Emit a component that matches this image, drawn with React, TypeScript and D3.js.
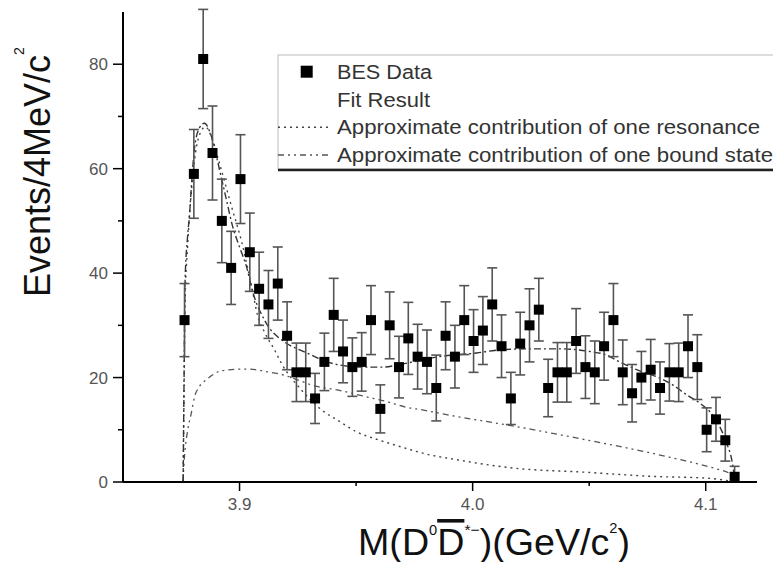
import React from "react";
import * as d3 from "d3";

const masses = [3.8764, 3.8804, 3.8844, 3.8884, 3.8924, 3.8964, 3.9004, 3.9044, 3.9084, 3.9124, 3.9164, 3.9204, 3.9244, 3.9284, 3.9324, 3.9364, 3.9404, 3.9444, 3.9484, 3.9524, 3.9564, 3.9604, 3.9644, 3.9684, 3.9724, 3.9764, 3.9804, 3.9844, 3.9884, 3.9924, 3.9964, 4.0004, 4.0044, 4.0084, 4.0124, 4.0164, 4.0204, 4.0244, 4.0284, 4.0324, 4.0364, 4.0404, 4.0444, 4.0484, 4.0524, 4.0564, 4.0604, 4.0644, 4.0684, 4.0724, 4.0764, 4.0804, 4.0844, 4.0884, 4.0924, 4.0964, 4.1004, 4.1044, 4.1084, 4.1124];
const counts = [31, 59, 81, 63, 50, 41, 58, 44, 37, 34, 38, 28, 21, 21, 16, 23, 32, 25, 22, 23, 31, 14, 30, 22, 27.5, 24, 23, 18, 28, 24, 31, 27, 29, 34, 26, 16, 26.5, 30, 33, 18, 21, 21, 27, 22, 21, 26, 31, 21, 17, 20, 21.5, 18, 21, 21, 26, 22, 10, 12, 8, 1];
const errors = [7, 8.5, 9.5, 9, 8, 7, 8.5, 7.5, 7, 6.5, 7, 6.5, 5.6, 5.6, 4.8, 5.5, 7, 6, 5.6, 5.6, 6.6, 4.6, 6.4, 5.9, 6.9, 6.2, 6.1, 6.3, 6.5, 6, 6.6, 6, 6.5, 7, 6, 5, 6, 7, 6, 5.5, 5.7, 5.7, 6.2, 6, 6, 6.5, 7, 6.2, 5.5, 5, 5.8, 5, 5.5, 5.6, 6, 6.2, 4.2, 4.2, 4, 2];

const fitMass = [3.8758, 3.8762, 3.8766, 3.8777, 3.8785, 3.8794, 3.8807, 3.8828, 3.885, 3.8871, 3.8884, 3.8914, 3.8944, 3.897, 3.9, 3.903, 3.9056, 3.9107, 3.9193, 3.9258, 3.9309, 3.9373, 3.9528, 3.9614, 3.9687, 3.9858, 4.0017, 4.0116, 4.0245, 4.0373, 4.0502, 4.0575, 4.0631, 4.0704, 4.0803, 4.0858, 4.0918, 4.0974, 4.1017, 4.106, 4.109, 4.1112, 4.1124, 4.1131];
const fitValue = [0, 20, 38, 47, 51, 57, 64, 67.8, 68.7, 67.2, 65.5, 59.8, 54, 49, 45, 41.2, 36.5, 31, 26.8, 25.3, 24.3, 23, 22, 22, 22.5, 24, 24.7, 25.3, 25.5, 25.5, 25, 24.3, 23, 21.5, 19.9, 18.6, 16.7, 15.1, 13.5, 10.6, 7.4, 4.2, 1, 0];

const resMass = [3.8758, 3.8762, 3.8766, 3.8777, 3.8794, 3.8811, 3.8833, 3.8854, 3.888, 3.8914, 3.8966, 3.9009, 3.9052, 3.9077, 3.9107, 3.915, 3.918, 3.9266, 3.9352, 3.9429, 3.9502, 3.9601, 3.9687, 3.9815, 3.9901, 4.0189, 4.0472, 4.076, 4.1017, 4.1124];
const resValue = [0, 18, 34, 45, 56, 63, 67, 68, 66, 61, 52.7, 46, 37.4, 32, 28.7, 25.3, 22.7, 17.6, 13.8, 11.6, 9.6, 8, 6.8, 5.2, 4.5, 2.6, 1.9, 1.1, 0.7, 0];

const boundMass = [3.8757, 3.8764, 3.8778, 3.8793, 3.8807, 3.8828, 3.8858, 3.8923, 3.9, 3.9043, 3.912, 3.918, 3.9258, 3.933, 3.9399, 3.9545, 3.9631, 3.9717, 3.9785, 3.9888, 4.0189, 4.0472, 4.076, 4.0888, 4.0974, 4.1047, 4.1103, 4.1129];
const boundValue = [0, 5, 10, 13.2, 16.3, 18.3, 19.6, 21.3, 21.6, 21.6, 21.1, 20.6, 19.4, 18.3, 17.8, 16.3, 15.4, 14.3, 13.8, 12.9, 10.6, 8.2, 5.6, 4.3, 3.4, 2.5, 1.6, 0];

const yMajor = [0, 20, 40, 60, 80];
const yMinor = [10, 30, 50, 70];
const xMajor = [3.9, 4.0, 4.1];
const xMinor = [3.95, 4.05];
const legendLabels = ["BES Data", "Fit Result", "Approximate contribution of one resonance", "Approximate contribution of one bound state"];

const FONT = "'Liberation Sans', Arial, Helvetica, sans-serif";

export default function App() {
  const W = 773, H = 562;
  const x = d3.scaleLinear().domain([3.85, 4.122]).range([123, 757]);
  const y = d3.scaleLinear().domain([0, 90]).range([482, 12]);
  const line = d3.line<[number, number]>().x(d => x(d[0])).y(d => y(d[1])).curve(d3.curveMonotoneX);
  const fitPath = line(fitMass.map((m, i) => [m, fitValue[i]]) as [number, number][]) || "";
  const resPath = line(resMass.map((m, i) => [m, resValue[i]]) as [number, number][]) || "";
  const boundPath = line(boundMass.map((m, i) => [m, boundValue[i]]) as [number, number][]) || "";
  const ms = 10;
  const cap = 5;
  const legX = 278, legY = 55;
  const rowY = [71.7, 100, 127.3, 155];
  const textLens = [95, 93, 423, 436];

  return (
    <svg width={W} height={H} style={{ position: "absolute", left: 0, top: 0, background: "#fff" }} fontFamily={FONT}>
      <rect x={0} y={0} width={W} height={H} fill="#fff" />
      {/* curves */}
      <path d={boundPath} fill="none" stroke="#555" strokeWidth={1.3} strokeDasharray="6,4,2,4,2,4" />
      <path d={resPath} fill="none" stroke="#444" strokeWidth={1.4} strokeDasharray="2,4" />
      <path d={fitPath} fill="none" stroke="#333" strokeWidth={1.4} strokeDasharray="7,3,2,3" />
      {/* error bars */}
      {masses.map((m, i) => {
        const cx = x(m);
        const y1 = y(counts[i] + errors[i]);
        const y2 = y(Math.max(0, counts[i] - errors[i]));
        return (
          <g key={"e" + i} stroke="#555" strokeWidth={1.6}>
            <line x1={cx} x2={cx} y1={y1} y2={y2} />
            <line x1={cx - cap} x2={cx + cap} y1={y1} y2={y1} />
            <line x1={cx - cap} x2={cx + cap} y1={y2} y2={y2} />
          </g>
        );
      })}
      {/* markers */}
      {masses.map((m, i) => (
        <rect key={"p" + i} x={x(m) - ms / 2} y={y(counts[i]) - ms / 2} width={ms} height={ms} fill="#000" />
      ))}
      {/* axes */}
      <line x1={123} x2={123} y1={y(0)} y2={y(90)} stroke="#000" strokeWidth={2} />
      <line x1={x(3.85)} x2={x(4.122)} y1={y(0)} y2={y(0)} stroke="#000" strokeWidth={2.2} />
      {yMajor.map(v => (
        <g key={"ym" + v}>
          <line x1={113} x2={123} y1={y(v)} y2={y(v)} stroke="#000" strokeWidth={1.5} />
          <text x={108} y={y(v) + 6} textAnchor="end" fontSize={17} fill="#555">{v}</text>
        </g>
      ))}
      {yMinor.map(v => (
        <line key={"yn" + v} x1={118} x2={123} y1={y(v)} y2={y(v)} stroke="#000" strokeWidth={1.5} />
      ))}
      {xMajor.map(v => (
        <g key={"xm" + v}>
          <line x1={x(v)} x2={x(v)} y1={y(0)} y2={y(0) + 9} stroke="#000" strokeWidth={1.5} />
          <text x={x(v)} y={510} textAnchor="middle" fontSize={17} fill="#555">{v.toFixed(1)}</text>
        </g>
      ))}
      {xMinor.map(v => (
        <line key={"xn" + v} x1={x(v)} x2={x(v)} y1={y(0)} y2={y(0) + 4} stroke="#000" strokeWidth={1.5} />
      ))}
      {/* axis titles */}
      <text transform="translate(50,297) rotate(-90)" fontSize={36} fill="#111">
        Events/4MeV/c<tspan fontSize={14} dy={-26}>2</tspan>
      </text>
      <text x={358} y={555} fontSize={36} fill="#111" textLength={272} lengthAdjust="spacingAndGlyphs">
        M(D<tspan fontSize={14} dy={-20}>0</tspan>
        <tspan dy={20} textDecoration="overline">D</tspan>
        <tspan fontSize={15} dy={-20}>*−</tspan>
        <tspan dy={20}>)(GeV/c</tspan>
        <tspan fontSize={14} dy={-22}>2</tspan>
        <tspan dy={22}>)</tspan>
      </text>
      {/* legend */}
      <rect x={legX} y={legY} width={600} height={114} fill="#fff" stroke="#bbb" strokeWidth={1} />
      <line x1={legX} x2={W} y1={legY + 115} y2={legY + 115} stroke="#222" strokeWidth={2.5} />
      <rect x={306.7 - 6} y={rowY[0] - 6} width={12} height={12} fill="#000" />
      <line x1={legX} x2={330} y1={rowY[2]} y2={rowY[2]} stroke="#444" strokeWidth={1.4} strokeDasharray="2,4" />
      <line x1={legX} x2={330} y1={rowY[3]} y2={rowY[3]} stroke="#555" strokeWidth={1.3} strokeDasharray="6,4,2,4,2,4" />
      {legendLabels.map((t, i) => (
        <text key={t} x={337} y={rowY[i] + 7} fontSize={20} fill="#333" textLength={textLens[i]} lengthAdjust="spacingAndGlyphs">{t}</text>
      ))}
    </svg>
  );
}
